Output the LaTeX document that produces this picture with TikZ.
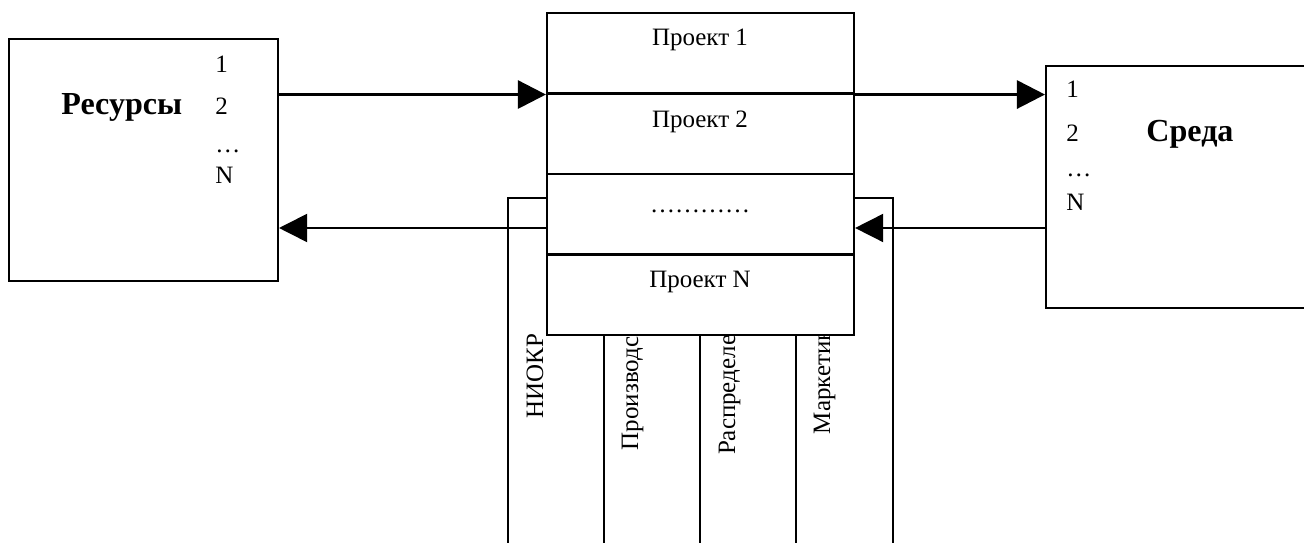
\documentclass[tikz,border=0pt]{standalone}
\usepackage{fontspec}
\setmainfont{Liberation Serif}
\usepackage{tikz}
\usetikzlibrary{arrows.meta,calc}
\tikzset{
  block/.style={draw,line width=1pt,fill=white,minimum width=129.1pt,minimum height=116.2pt,inner sep=0pt},
  cell/.style={draw,line width=1pt,fill=white,minimum width=147.4pt,minimum height=38.64pt,inner sep=0pt},
  txt/.style={font=\fontsize{12}{14}\selectfont,inner sep=0pt,anchor=base},
  num/.style={txt,anchor=base west},
  head/.style={font=\fontsize{15.4}{17}\selectfont\bfseries,inner sep=0pt,anchor=base west},
  coltxt/.style={txt,rotate=90},
  colline/.style={line width=0.8pt},
  fwd/.style={line width=1.4pt,-{Triangle[length=13.5pt,width=13.5pt]}},
  back/.style={line width=0.8pt,-{Triangle[length=13.5pt,width=13.5pt]}}
}
\begin{document}
\begin{tikzpicture}[x=0.48pt,y=-0.48pt]
\useasboundingbox (0,0) rectangle (1304,543);
\clip (0,0) rectangle (1304,543);
% columns behind the projects
\draw[colline] (508,560) -- (508,198) -- (893,198) -- (893,560); % frame
\foreach \x in {604,700,796} \draw[colline] (\x,335) -- (\x,560); % dividers
\draw[line width=1.3pt] (700,335) -- (700,417); % thick part
\node[coltxt] (c1) at (543,376) {НИОКР};
\node[coltxt] (c2) at (638,376) {Производство};
\node[coltxt] (c3) at (735,376) {Распределение};
\node[coltxt] (c4) at (830,376) {Маркетинг};
% projects
\node[cell] (p1) at (700.5,53.25) {};
\node[cell] (p2) at (700.5,133.75) {};
\node[cell] (p3) at (700.5,214.25) {};
\node[cell] (p4) at (700.5,294.75) {};
\node[txt] (t1) at (700,46) {Проект 1};
\node[txt] (t2) at (700,128) {Проект 2};
\node[txt] (t3) at (700,213) {…………};
\node[txt] (t4) at (700,288) {Проект N};
% resources
\node[block] (res) at (143.5,160) {};
\node[head] (resname) at (61,115) {Ресурсы};
\node[num] (r1) at (215,73) {1};
\node[num] (r2) at (215,115) {2};
\node[num] (r3) at (215,153) {…};
\node[num] (r4) at (215,184) {N};
% environment
\node[block] (env) at (1180.5,187) {};
\node[head] (envname) at (1146,142) {Среда};
\node[num] (e1) at (1066,98) {1};
\node[num] (e2) at (1066,142) {2};
\node[num] (e3) at (1066,177) {…};
\node[num] (e4) at (1066,211) {N};
% arrows
\coordinate (ret) at (0,228);
\draw[fwd] (res.east |- p1.south west) -- (p1.south west); % resources to projects
\draw[fwd] (p1.south east) -- (env.west |- p1.south east); % projects to environment
\draw[back] (env.west |- ret) -- (p3.east |- ret); % environment back
\draw[back] (p3.west |- ret) -- (res.east |- ret); % projects back
\end{tikzpicture}
\end{document}
